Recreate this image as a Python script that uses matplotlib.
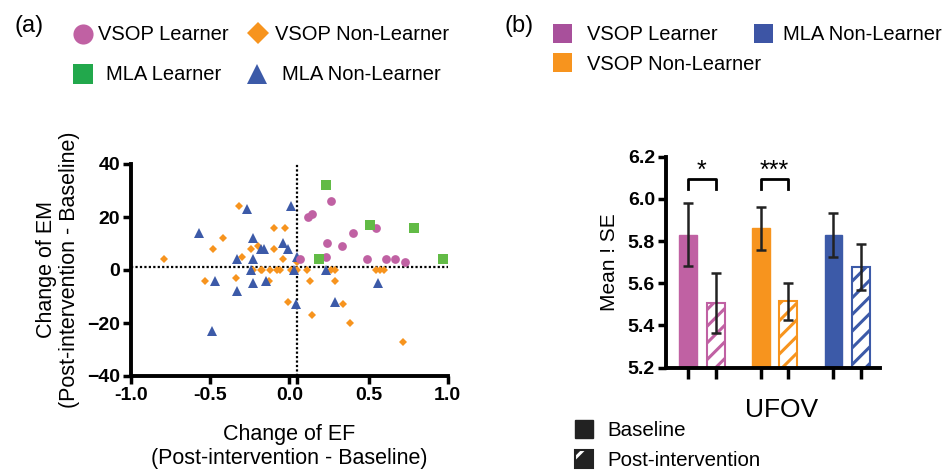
import numpy as np
import matplotlib
matplotlib.use("Agg")
import matplotlib.pyplot as plt
from matplotlib.patches import Rectangle

plt.rcParams['font.family'] = ['Liberation Sans', 'DejaVu Sans']
plt.rcParams['hatch.linewidth'] = 2.2

# ---------------- data (a) ----------------
vsop_learner_x = [0.26, 0.12, 0.14, 0.40, 0.55, 0.24, 0.33, 0.23, 0.07, 0.49, 0.61, 0.67, 0.73]
vsop_learner_y = [26, 20, 21, 14, 16, 10, 9, 5, 4, 4, 4, 4, 3]

vsop_non_x = [-0.79, -0.32, -0.42, -0.48, -0.53, -0.34, -0.30, -0.24, -0.20,
              -0.23, -0.18, -0.17, -0.12, -0.08, -0.06, 0.01, 0.05, 0.11, 0.26, 0.29, 0.55, 0.57, 0.60,
              -0.13, -0.10, -0.03, -0.10, -0.04, -0.01, 0.05, 0.13, 0.29, 0.34, 0.14, 0.38, 0.72]
vsop_non_y = [4, 24, 12, 8, -4, -3, 5, 8, 9,
              0, 0, 0, 0, 0, 0, 0, 0, 0, 0, 0, 0, 0, 0,
              -4, 16, 16, 8, 4, -12, 3, -4, -4, -13, -17, -20, -27]

mla_learner_x = [0.23, 0.51, 0.79, 0.19, 0.97]
mla_learner_y = [32, 17, 16, 4, 4]

mla_non_x = [-0.57, -0.27, -0.47, -0.49, -0.33, -0.33, -0.23, -0.23, -0.24, -0.23, -0.18,
             -0.16, -0.15, -0.04, -0.01, 0.01, 0.05, 0.03, 0.23, 0.56, 0.29, 0.04]
mla_non_y = [14, 23, -4, -23, 4, -8, 12, 4, 0, -5, 8,
             8, -4, 10, 8, 24, 5, 0, 0, -5, -12, -13]

ref_x = 0.05   # vertical dotted reference line
ref_y = 1.3    # horizontal dotted reference line

# ---------------- data (b) ----------------
groups = ['VSOP Learner', 'VSOP Non-Learner', 'MLA Non-Learner']
baseline_mean = [5.83, 5.86, 5.83]
baseline_se = [0.15, 0.10, 0.105]
post_mean = [5.505, 5.515, 5.676]
post_se = [0.142, 0.087, 0.108]
sig_labels = ['*', '***', '']

# ---------------- colours ----------------
c_pink = '#C061A3'
c_orange = '#F7941E'
c_green = '#62BB46'
c_blue = '#3C5AA8'
c_pink_leg = '#A8509B'
c_blue_leg = '#3D55A5'
c_green_leg = '#22A84C'

W, H = 948, 473
fig = plt.figure(figsize=(W / 100, H / 100), dpi=100)

tick_fs = 14

# ================= panel (a) =================
ax1 = fig.add_axes([131 / W, 1 - 376 / H, (447.7 - 131) / W, (376 - 164) / H])
ax1.plot(vsop_non_x, vsop_non_y, 'D', color=c_orange, ms=4.2, mew=0, zorder=3)
ax1.plot(mla_non_x, mla_non_y, '^', color=c_blue, ms=6.5, mew=0, zorder=3)
ax1.plot(vsop_learner_x, vsop_learner_y, 'o', color=c_pink, ms=6.3, mew=0, zorder=4)
ax1.plot(mla_learner_x, mla_learner_y, 's', color=c_green, ms=6.5, mew=0, zorder=4)
ax1.axvline(ref_x, color='black', lw=1.6, ls=(0, (1, 1)), zorder=2)
ax1.axhline(ref_y, color='black', lw=1.6, ls=(0, (1, 1)), zorder=2)
ax1.set_xlim(-1, 1)
ax1.set_ylim(-40, 40)
ax1.set_xticks([-1, -0.5, 0, 0.5, 1])
ax1.set_xticklabels(['-1.0', '-0.5', '0.0', '0.5', '1.0'])
ax1.set_xticks([ref_x], minor=True)
ax1.set_yticks([-40, -20, 0, 20, 40])
ax1.tick_params(axis='both', which='major', length=6, width=2.5, labelsize=tick_fs, pad=2)
ax1.tick_params(axis='x', which='minor', length=6, width=2.5)
for lab in ax1.get_xticklabels() + ax1.get_yticklabels():
    lab.set_fontweight('bold')
for s in ['top', 'right']:
    ax1.spines[s].set_visible(False)
for s in ['left', 'bottom']:
    ax1.spines[s].set_linewidth(2.8)
ax1.set_xlabel('Change of EF\n(Post-intervention - Baseline)', fontsize=15.5, labelpad=14, linespacing=1.2)
ax1.set_ylabel('Change of EM\n(Post-intervention - Baseline)', fontsize=15.5, labelpad=5, linespacing=1.15)

# ================= panel (b) =================
ax2 = fig.add_axes([666 / W, 1 - 367.7 / H, (880 - 666) / W, (367.7 - 156.7) / H])
colors = [c_pink, c_orange, c_blue]
gidx = np.arange(len(groups))
centers = gidx * 2.65 + 0.5
pos_base = centers - 0.5
pos_post = centers + 0.5
bw = 0.65
ax2.bar(pos_base, np.array(baseline_mean) - 5.2, bottom=5.2, width=bw, color=colors,
        edgecolor=colors, linewidth=1.0, zorder=2)
ax2.bar(pos_post, np.array(post_mean) - 5.2, bottom=5.2, width=bw, color='white',
        edgecolor=colors, hatch='//', linewidth=1.5, zorder=2)
ax2.errorbar(pos_base, baseline_mean, yerr=baseline_se, fmt='none', ecolor='#222222',
             elinewidth=1.8, capsize=3.4, capthick=1.8, zorder=3)
ax2.errorbar(pos_post, post_mean, yerr=post_se, fmt='none', ecolor='#222222',
             elinewidth=1.8, capsize=3.4, capthick=1.8, zorder=3)
for b, p, lab in zip(pos_base, pos_post, sig_labels):
    if lab:
        ax2.plot([b, b, p, p], [6.045, 6.093, 6.093, 6.045], color='black', lw=2, zorder=3)
        ax2.text((b + p) / 2, 6.10, lab, ha='center', va='baseline', fontsize=18)
ax2.set_ylim(5.2, 6.2)
ax2.set_xlim(-0.81, 7.0)
ax2.set_yticks([5.2, 5.4, 5.6, 5.8, 6.0, 6.2])
ax2.set_yticklabels(['5.2', '5.4', '5.6', '5.8', '6.0', '6.2'])
ax2.set_xticks(np.sort(np.concatenate([pos_base, pos_post])))
ax2.set_xticklabels([])
ax2.tick_params(axis='y', length=6, width=2.5, labelsize=tick_fs, pad=2)
ax2.tick_params(axis='x', length=8, width=2.5)
for lab in ax2.get_yticklabels():
    lab.set_fontweight('bold')
for s in ['top', 'right']:
    ax2.spines[s].set_visible(False)
for s in ['left', 'bottom']:
    ax2.spines[s].set_linewidth(2.8)
ax2.set_ylabel('Mean ! SE', fontsize=15, labelpad=6)

# ================= overlay: panel letters and legends =================
ov = fig.add_axes([0, 0, 1, 1])
ov.set_xlim(0, W)
ov.set_ylim(H, 0)
ov.axis('off')

ov.text(29, 26, '(a)', fontsize=17, ha='center', va='center')
ov.text(519, 26, '(b)', fontsize=17, ha='center', va='center')

leg_fs = 14.5
ov.plot(83, 34, 'o', color=c_pink, ms=14.5, mew=0)
ov.text(98, 35, 'VSOP Learner', fontsize=leg_fs, va='center')
ov.plot(258, 33, 'D', color=c_orange, ms=11, mew=0)
ov.text(275, 35, 'VSOP Non-Learner', fontsize=leg_fs, va='center')
ov.plot(83, 74, 's', color=c_green_leg, ms=14.5, mew=0)
ov.text(106, 75, 'MLA Learner', fontsize=leg_fs, va='center')
ov.plot(257, 74, '^', color=c_blue, ms=14, mew=0)
ov.text(282, 75, 'MLA Non-Learner', fontsize=leg_fs, va='center')

ov.add_patch(Rectangle((553, 24), 19, 19, color=c_pink_leg, lw=0))
ov.text(587, 34, groups[0], fontsize=leg_fs, va='center')
ov.add_patch(Rectangle((754, 24), 19, 19, color=c_blue_leg, lw=0))
ov.text(783, 34, groups[2], fontsize=leg_fs, va='center')
ov.add_patch(Rectangle((553, 53), 19, 19, color=c_orange, lw=0))
ov.text(587, 64, groups[1], fontsize=leg_fs, va='center')

ov.text(782, 410, 'UFOV', fontsize=19, ha='center', va='center')
ov.add_patch(Rectangle((575, 420), 18, 18, facecolor='#222222', edgecolor='#222222', lw=1))
ov.text(607, 430, 'Baseline', fontsize=14.8, va='center')
ov.add_patch(Rectangle((575, 450), 18, 18, facecolor='#222222', edgecolor='white', hatch='/', lw=0))
ov.add_patch(Rectangle((575, 450), 18, 18, facecolor='none', edgecolor='#222222', lw=1.5))
ov.text(607, 460, 'Post-intervention', fontsize=14.8, va='center')

fig.savefig('out.png', dpi=100)
